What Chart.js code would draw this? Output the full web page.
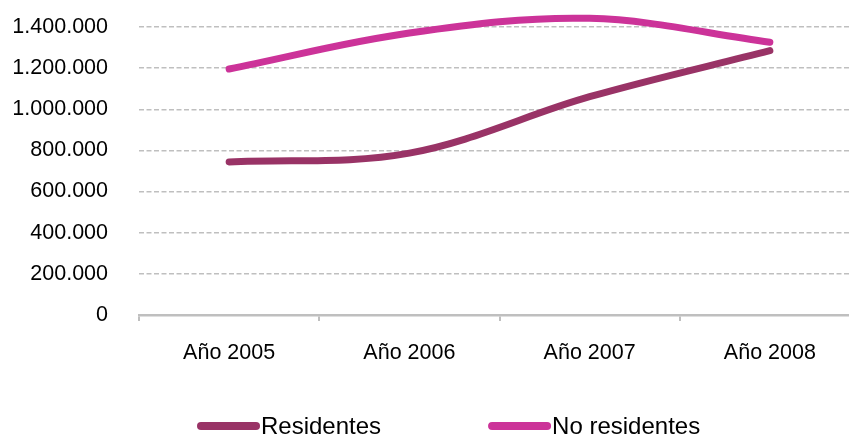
<!DOCTYPE html>
<html>
<head>
<meta charset="utf-8">
<script src="https://cdn.jsdelivr.net/npm/chart.js@4"></script>
<style>
  html, body { margin: 0; padding: 0; background: #fff; overflow: hidden; }
  #wrap { width: 860px; height: 438px; }
</style>
</head>
<body>
<div id="wrap"><canvas id="canvas"></canvas></div>
<script>
var years = ["Año 2005", "Año 2006", "Año 2007", "Año 2008"];
var residentes = [744000, 787000, 1061000, 1285000];
var noResidentes = [1196000, 1371000, 1442000, 1326000];
var yTicks = [0, 200000, 400000, 600000, 800000, 1000000, 1200000, 1400000];

var FONT = "'Liberation Sans', Arial, sans-serif";
var GRID = "#BFBFBF";

// Spanish thousands separator
function fmt(v) {
  return String(v).replace(/\B(?=(\d{3})+(?!\d))/g, ".");
}

// legend drawn by hand so the spacing can follow the original
var bottomLegend = {
  id: "bottomLegend",
  afterDraw: function (chart) {
    var ctx = chart.ctx;
    var y = 426;
    var x = chart.chartArea.left + 62;
    ctx.save();
    ctx.font = "24px " + FONT;
    ctx.textBaseline = "middle";
    ctx.textAlign = "left";
    chart.data.datasets.forEach(function (ds) {
      ctx.strokeStyle = ds.borderColor;
      ctx.lineWidth = 8;
      ctx.lineCap = "round";
      ctx.beginPath();
      ctx.moveTo(x, y);
      ctx.lineTo(x + 55, y);
      ctx.stroke();
      ctx.fillStyle = "#000";
      ctx.fillText(ds.label, x + 60, y + 1);
      x += 60 + ctx.measureText(ds.label).width + 111;
    });
    ctx.restore();
  }
};

var ctx = document.getElementById("canvas").getContext("2d");
var chart = new Chart(ctx, {
  type: "line",
  data: {
    labels: years,
    datasets: [
      {
        label: "Residentes",
        data: residentes,
        borderColor: "#993366",
        backgroundColor: "#993366",
        borderWidth: 7,
        borderCapStyle: "round",
        tension: 0.35,
        pointRadius: 0,
        clip: false,
        fill: false
      },
      {
        label: "No residentes",
        data: noResidentes,
        borderColor: "#CC3399",
        backgroundColor: "#CC3399",
        borderWidth: 7,
        borderCapStyle: "round",
        tension: 0.35,
        pointRadius: 0,
        clip: false,
        fill: false
      }
    ]
  },
  options: {
    responsive: true,
    maintainAspectRatio: false,
    animation: false,
    layout: { padding: { left: 14, right: 0, top: 27, bottom: 73 } },
    plugins: {
      legend: { display: false },
      tooltip: { enabled: false }
    },
    scales: {
      x: {
        offset: true,
        afterFit: function (scale) { scale.height = 50; },
        grid: {
          offset: true,
          drawOnChartArea: false,
          color: GRID,
          lineWidth: 2,
          tickLength: 6
        },
        border: { color: GRID, width: 2.5 },
        ticks: {
          color: "#000",
          padding: 19,
          font: { family: FONT, size: 21.5 },
          maxRotation: 0
        }
      },
      y: {
        min: 0,
        max: 1400000,
        afterBuildTicks: function (scale) {
          scale.ticks = yTicks.map(function (v) { return { value: v }; });
        },
        afterFit: function (scale) {
          scale.width = 125;
          scale.paddingTop = 0;
          scale.paddingBottom = 0;
        },
        grid: {
          color: GRID,
          lineWidth: 1.5,
          drawTicks: false
        },
        border: { display: false, dash: [5, 2.5] },
        ticks: {
          color: "#000",
          padding: 31,
          font: { family: FONT, size: 21.5 },
          callback: function (v) { return fmt(v); }
        }
      }
    }
  },
  plugins: [bottomLegend]
});
</script>
</body>
</html>
